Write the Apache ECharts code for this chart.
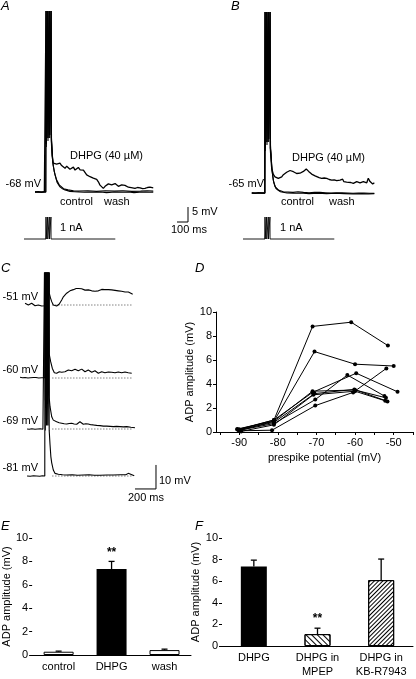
<!DOCTYPE html>
<html><head><meta charset="utf-8">
<script src="https://cdn.jsdelivr.net/npm/echarts@6/dist/echarts.min.js"></script>
<style>html,body{margin:0;padding:0;background:#fff}#c{width:416px;height:679px}</style>
</head><body><div id="c"></div>
<script>
// ---------------- DATA ----------------
// Panel A (time ms, membrane potential mV)
const aDhpg = [[-100,-68],[-70,-67.9],[-40,-68.1],[-15,-67.9],[-2,-68],
 [0,-7.7],[2,-52],[15,-7.7],[17,-50],[30,-7.7],[32,-49],[45,-7.7],[48,-50],
 [55,-56],[66,-58.4],[80,-58.2],[97,-58.7],[112,-58.1],[127,-58.4],[142,-59.2],[157,-59],[173,-60.1],[188,-59.4],[203,-59.6],[218,-60.4],[234,-60.1],[249,-59.7],[264,-60.7],[279,-60.2],[294,-59.8],[310,-60.6],[325,-61.2],[340,-60.7],[355,-60.4],[370,-62.3],[385,-62.1],[400,-62.9],[415,-62.6],[430,-63.4],[445,-63.2],[461,-63.8],[476,-64.6],[491,-65.7],[506,-66.2],[521,-66.8],[537,-66.1],[552,-65.7],[567,-65.3],[582,-65.1],[597,-65.6],[612,-65.7],[628,-65.2],[643,-65.7],[658,-66.1],[673,-66.2],[688,-65.6],[703,-65.3],[718,-65.8],[734,-66],[749,-66.4],[764,-66.9],[787,-66.6],[809,-66.8],[832,-66.5],[855,-66.6],[878,-66.9],[900,-66.8],[923,-66.5],[945,-66.4],[960,-66.7],[975,-66.6]];
const aControl = [[-100,-68.1],[-60,-68],[-30,-68.1],[-2,-68.1],
 [1,-7.7],[3,-53],[16,-7.7],[18,-51],[31,-7.7],[33,-50],[46,-7.7],[49,-51],
 [55,-54],[64,-59],[82,-62.3],[100,-64.7],[127,-66.3],[150,-66.9],[173,-67.3],[218,-67.8],[260,-67.9],[300,-68],[350,-68.1],[400,-68],[450,-68.1],[500,-68],[550,-68.2],[600,-68.1],[650,-68],[700,-68.1],[750,-68],[800,-68.2],[850,-68.1],[900,-68],[940,-68.1],[975,-68.1]];
const aWash = [[-100,-67.9],[-60,-68],[-30,-67.9],[-2,-67.9],
 [2,-7.7],[4,-52],[17,-7.7],[19,-50],[32,-7.7],[34,-49],[47,-7.7],[50,-50],
 [56,-54],[62,-58],[75,-61.2],[95,-63.8],[120,-65.6],[160,-66.9],[200,-67.3],[250,-67.6],[300,-67.7],[380,-67.6],[460,-67.8],[540,-67.6],[620,-67.7],[700,-67.6],[780,-67.8],[860,-67.7],[920,-67.6],[975,-67.7]];
// Panel B
const bDhpg = [[-120,-65],[-90,-65.1],[-60,-64.9],[-30,-65],[-2,-65],
 [0,-4.7],[2,-50],[15,-4.7],[17,-48],[30,-4.7],[32,-47],[45,-4.7],[48,-50],
 [55,-54],[61,-56.8],[76,-58.8],[91,-59.6],[106,-59.8],[121,-60.1],[137,-59.9],[152,-59.6],[167,-58.9],[182,-58.4],[197,-58.1],[212,-57.9],[228,-57.5],[243,-57.6],[258,-57.9],[273,-58.1],[288,-58.5],[303,-58.7],[318,-58.4],[334,-58.2],[349,-57.8],[364,-57.3],[375,-57.0],[385,-57.1],[397,-57.8],[409,-58.4],[424,-58.7],[439,-59],[455,-59.3],[470,-59.6],[492,-59.9],[515,-60.1],[538,-60],[561,-60.1],[584,-60.5],[606,-60.7],[629,-60.6],[652,-60.9],[667,-60.8],[682,-60.7],[695,-60.3],[706,-60.4],[716,-61.2],[727,-61.6],[742,-61.4],[757,-61.2],[780,-61.5],[803,-61.8],[818,-61.6],[834,-61.2],[849,-61.5],[864,-61.6],[879,-61.3],[894,-61.2],[910,-61.5],[925,-61.6],[933,-61.0],[939,-60.1],[947,-60.7],[955,-61.2],[967,-61.7],[979,-62],[994,-61.6]];
const bControl = [[-120,-65.1],[-80,-65],[-40,-65.1],[-2,-65.1],
 [1,-4.7],[3,-51],[16,-4.7],[18,-49],[31,-4.7],[33,-48],[46,-4.7],[49,-50],
 [55,-52],[61,-56.2],[75,-60.7],[91,-62.9],[121,-64],[166,-64.6],[210,-64.7],[255,-64.8],[300,-64.6],[350,-64.8],[400,-64.9],[450,-64.8],[500,-64.8],[550,-64.9],[600,-65],[650,-64.9],[700,-64.9],[750,-65],[800,-65.1],[850,-65],[900,-65],[950,-65.1],[994,-65.1]];
const bWash = [[-120,-64.9],[-80,-65],[-40,-64.9],[-2,-65],
 [2,-4.7],[4,-50],[17,-4.7],[19,-48],[32,-4.7],[34,-47],[47,-4.7],[50,-49],
 [56,-53],[65,-58],[80,-61.5],[100,-63.5],[140,-64.6],[200,-65],[260,-65.1],[320,-65],[400,-65.2],[480,-65.1],[560,-65.2],[640,-65.1],[720,-65.2],[800,-65.3],[880,-65.2],[940,-65.3],[994,-65.2]];
// Current injection (nA)
const stim = [[-200,0],[0,0],[0,1],[1,1],[1,0],[15,0],[15,1],[16,1],[16,0],[30,0],[30,1],[31,1],[31,0],[45,0],[45,1],[46,1],[46,0],[630,0]];
// Scale bars: 100 ms / 5 mV (A,B) ; 200 ms / 10 mV (C)
const abScale = [[1191,-78],[1291,-78],[1291,-73]];
const cScale = [[857,-86.4],[1057,-86.4],[1057,-76.4]];
// Panel C (prespike potentials)
const cBase = [-51, -60, -69, -81];
const c51 = [[-190,-50.3],[-175,-50.8],[-159,-51],[-143,-50.6],[-127,-50.3],[-111,-50.9],[-95,-51.3],[-80,-50.9],[-64,-51],[-48,-51.3],[-31,-51.4],[-15,-51.1],[-2,-51.3],
 [0,20],[3,-46],[12,20],[15,-45],[24,20],[27,-45],[36,20],[40,-46],
 [52,-48],[64,-49.6],[79,-51],[95,-51.3],[111,-51.4],[124,-51.1],[136,-50.6],[159,-48.9],[175,-47.6],[190,-46.8],[206,-46.1],[222,-45.5],[238,-45.1],[254,-44.8],[270,-44.6],[286,-44.3],[297,-44.1],[308,-43.8],[320,-44.1],[333,-44.3],[349,-44.2],[365,-44.5],[381,-44.8],[397,-45],[413,-44.7],[429,-44.8],[445,-45.1],[460,-45.2],[476,-45.3],[492,-45.5],[508,-45.1],[524,-44.8],[540,-44.5],[555,-44.3],[571,-44.6],[588,-44.8],[604,-44.6],[619,-44.5],[635,-44.7],[650,-45],[667,-44.9],[683,-44.8],[698,-45.1],[714,-45.5],[730,-45.3],[746,-45.2],[762,-45.6],[778,-45.9],[794,-45.6],[810,-45.7],[822,-46.2],[835,-46.5]];
const c60 = [[-238,-59.7],[-215,-59.9],[-190,-59.8],[-162,-60],[-140,-59.9],[-110,-59.8],[-86,-59.8],[-60,-60],[-30,-59.9],[-2,-59.9],
 [0,20],[3,-50],[12,20],[15,-49],[24,20],[27,-48],[36,20],[40,-50],
 [54,-53.2],[70,-56],[89,-57.8],[111,-58],[124,-57.6],[136,-57.4],[147,-57.7],[159,-57.6],[175,-57.3],[190,-57.4],[206,-56.9],[222,-56.7],[238,-57],[254,-57],[270,-56.6],[286,-56.4],[301,-56.8],[317,-57],[333,-56.5],[350,-56.3],[365,-56.9],[381,-57.4],[397,-57],[412,-56.7],[429,-57.2],[445,-57.6],[460,-57.2],[476,-57],[492,-57.5],[508,-58],[524,-57.6],[540,-57.4],[555,-57.7],[571,-57.8],[587,-57.5],[603,-57.5],[619,-57.7],[635,-57.6],[651,-57.9],[667,-57.8],[683,-57.6],[698,-57.5],[714,-57.7],[730,-57.8],[746,-57.6],[762,-57.5],[778,-57.8],[793,-57.8],[810,-57.7],[826,-58]];
const c69 = [[-171,-69],[-150,-69.1],[-125,-68.9],[-95,-69.1],[-70,-69],[-45,-68.9],[-20,-69.1],[-2,-69],
 [0,20],[3,-57],[12,20],[15,-56],[24,20],[27,-55],[36,20],[40,-56],
 [48,-59.7],[64,-63.9],[79,-65.3],[95,-65.8],[111,-66],[135,-66.4],[159,-66.6],[183,-66.8],[207,-66.9],[230,-66.7],[254,-66.6],[278,-66.9],[302,-67],[318,-66.7],[333,-66],[349,-66.6],[365,-67],[389,-66.8],[412,-66.9],[436,-67.2],[460,-67.3],[492,-67.5],[524,-67.6],[556,-67.8],[588,-67.8],[620,-67.9],[650,-68],[682,-67.9],[714,-68],[746,-68.1],[778,-68],[818,-68.3],[857,-68.5]];
const c81 = [[-171,-81],[-140,-81.1],[-110,-80.9],[-80,-81],[-50,-81.1],[-25,-80.9],[-2,-81],
 [0,20],[3,-62],[12,20],[15,-60],[24,20],[27,-60],[36,20],[40,-62],
 [48,-68],[56,-73],[64,-75.5],[79,-78.5],[95,-79.9],[127,-80.3],[167,-80.5],[207,-80.6],[260,-80.5],[310,-80.7],[365,-80.6],[420,-80.5],[470,-80.7],[524,-80.7],[590,-80.6],[650,-80.6],[720,-80.5],[770,-80.5],[793,-79.9],[810,-80.6],[850,-80.9]];
const cDotSpan = [70, 840];
// Panel D: ADP amplitude (mV) vs prespike potential (mV), one array per cell
const d1 = [[-90.5,0.2],[-81,1.0],[-71,8.8],[-61,9.15],[-51.5,7.2]];
const d2 = [[-90,0.1],[-81,0.9],[-70.5,6.7],[-60,5.65],[-50,5.5]];
const d3 = [[-90,0.15],[-81,0.7],[-70.3,2.7],[-62,4.75],[-52.4,3.0]];
const d4 = [[-90,0.2],[-81,1.0],[-71,3.3],[-59.7,4.9],[-49,3.35]];
const d5 = [[-90,0.1],[-81.5,0.15],[-70.3,2.2],[-60.5,3.3],[-51.9,5.3]];
const d6 = [[-90.5,0.25],[-81,0.9],[-71,3.4],[-60,3.5],[-52,2.85]];
const d7 = [[-89.5,0.05],[-81,0.6],[-70.8,3.1],[-60,3.4],[-52.2,2.6]];
const d8 = [[-90,0.2],[-81,0.8],[-70.5,3.2],[-60.2,3.55],[-51.6,2.55]];
const dTicks = [-95,-90,-85,-80,-75,-70,-65,-60,-55,-50,-45];
const dLabels = [-90,-80,-70,-60,-50];
// Panel E
const eCats = ['control','DHPG','wash'];
const eMean = [0.28, 7.35, 0.42];
const eErrTop = [0.33, 8.0, 0.5];
const eSig = ['', '**', ''];
// Panel F
const fCats = ['DHPG','DHPG in\nMPEP','DHPG in\nKB-R7943'];
const fMean = [7.35, 1.1, 6.1];
const fErrTop = [7.95, 1.65, 8.05];
const fSig = ['', '**', ''];

// ---------------- STYLE / LAYOUT ----------------
const FONT = '"Liberation Sans", Arial, Helvetica, sans-serif';
const K = '#000';
const eStyles = [{color:'#fff',borderColor:K,borderWidth:1},{color:K},{color:'#fff',borderColor:K,borderWidth:1}];
const fStyles = [{color:K},
 {color:'#fff',borderColor:K,borderWidth:1,decal:{symbol:'rect',symbolSize:1,color:K,dashArrayX:[1,0],dashArrayY:[1,2.2],rotation:Math.PI/4}},
 {color:'#fff',borderColor:K,borderWidth:1,decal:{symbol:'rect',symbolSize:1,color:K,dashArrayX:[1,0],dashArrayY:[0.9,1.5],rotation:-Math.PI/4}}];
const cBasePx = [305, 378, 429, 476];
const cPxPerMv = 2.4, cTop = 273, cBottom = 495;

const grids = [], xAxes = [], yAxes = [], series = [];
function hiddenPanel(g, xr, yr){
  const i = grids.length;
  grids.push(g);
  xAxes.push({gridIndex:i, type:'value', min:xr[0], max:xr[1], show:false});
  yAxes.push({gridIndex:i, type:'value', min:yr[0], max:yr[1], show:false});
  return i;
}
function trace(i, data, w){
  series.push({type:'line', xAxisIndex:i, yAxisIndex:i, data:data, showSymbol:false, symbol:'none',
    lineStyle:{color:K, width:w||1.1}, silent:true, z:2});
}
// A
const gA = hiddenPanel({left:24, top:3, width:187, height:225}, [-200,1500], [-80,-5]);
trace(gA, aControl, 1.1); trace(gA, aWash, 1.1); trace(gA, aDhpg, 1.3); trace(gA, abScale, 1);
const gAs = hiddenPanel({left:24, top:206, width:187, height:44}, [-200,1500], [-0.5,1.5]);
trace(gAs, stim, 0.9);
// B
const gB = hiddenPanel({left:243, top:4, width:132, height:210}, [-200,1000], [-72,-2]);
trace(gB, bControl, 1.1); trace(gB, bWash, 1.1); trace(gB, bDhpg, 1.3);
const gBs = hiddenPanel({left:243, top:206, width:132, height:44}, [-200,1000], [-0.5,1.5]);
trace(gBs, stim, 0.9);
// C
const cTraces = [c51, c60, c69, c81];
cBase.forEach((b, k) => {
  const ymax = b + (cBasePx[k] - cTop) / cPxPerMv;
  const ymin = b - (cBottom - cBasePx[k]) / cPxPerMv;
  const gi = hiddenPanel({left:45 - 300*0.105, top:cTop, width:1400*0.105, height:cBottom - cTop}, [-300,1100], [ymin, ymax]);
  series.push({type:'line', xAxisIndex:gi, yAxisIndex:gi, data:[[cDotSpan[0], b],[cDotSpan[1], b]], showSymbol:false, symbol:'none',
    lineStyle:{color:'#444', width:1, type:[1,2]}, silent:true, z:1});
  trace(gi, cTraces[k], 1.1);
  if (k === 3) trace(gi, cScale, 1);
});
// D
const axisCommon = {axisLine:{lineStyle:{color:K,width:1}}, axisTick:{show:true, length:3, lineStyle:{color:K}},
  axisLabel:{color:K, fontSize:11, fontFamily:FONT, margin:4}, splitLine:{show:false}};
const gD = grids.length;
grids.push({left:216, top:312, width:197, height:120});
xAxes.push(Object.assign({}, axisCommon, {gridIndex:gD, type:'value', min:-96, max:-45,
  axisTick:{show:true, length:3, customValues:dTicks, lineStyle:{color:K}},
  axisLabel:{color:K, fontSize:11, fontFamily:FONT, margin:5, customValues:dLabels},
  name:'prespike potential (mV)', nameLocation:'middle', nameGap:20,
  nameTextStyle:{color:K, fontSize:11, fontFamily:FONT, padding:[0,0,0,20]}}));
yAxes.push(Object.assign({}, axisCommon, {gridIndex:gD, type:'value', min:0, max:10, interval:2,
  name:'ADP amplitude (mV)', nameLocation:'middle', nameGap:18, nameRotate:90,
  nameTextStyle:{color:K, fontSize:11, fontFamily:FONT}}));
[d1,d2,d3,d4,d5,d6,d7,d8].forEach(d => series.push({type:'line', xAxisIndex:gD, yAxisIndex:gD, data:d,
  symbol:'circle', symbolSize:4, itemStyle:{color:K}, lineStyle:{color:K, width:1}, silent:true}));
// E & F bar panels
function errRender(sig){
  return function(params, api){
    const c = api.coord([api.value(0), api.value(1)]);
    const t = api.coord([api.value(0), api.value(2)]);
    const ch = [
      {type:'line', shape:{x1:c[0], y1:c[1], x2:t[0], y2:t[1]}, style:{stroke:K, lineWidth:1.3}},
      {type:'line', shape:{x1:t[0]-3, y1:t[1], x2:t[0]+3, y2:t[1]}, style:{stroke:K, lineWidth:1.3}}
    ];
    const s = sig[params.dataIndex];
    if (s) ch.push({type:'text', x:t[0], y:t[1]-3, style:{text:s, fill:K, font:'bold 12px ' + FONT, textAlign:'center', textVerticalAlign:'bottom'}});
    return {type:'group', children:ch};
  };
}
function barPanel(g, cats, mean, top, sig, styles, bw){
  const i = grids.length;
  grids.push(g);
  xAxes.push({gridIndex:i, type:'category', data:cats, axisLine:{lineStyle:{color:K,width:1}}, axisTick:{show:false},
    axisLabel:{color:K, fontSize:11, fontFamily:FONT, margin:5, lineHeight:14, interval:0}});
  yAxes.push(Object.assign({}, axisCommon, {gridIndex:i, type:'value', min:0, max:10, interval:2,
    name:'ADP amplitude (mV)', nameLocation:'middle', nameGap:16, nameRotate:90,
    nameTextStyle:{color:K, fontSize:11, fontFamily:FONT}}));
  series.push({type:'bar', xAxisIndex:i, yAxisIndex:i, barWidth:bw, silent:true,
    data: mean.map((v, j) => ({value:v, itemStyle:styles[j]})), z:2});
  series.push({type:'custom', xAxisIndex:i, yAxisIndex:i, renderItem:errRender(sig), silent:true, z:3,
    data: mean.map((v, j) => [j, v, top[j]])});
}
barPanel({left:30, top:538, width:161, height:117}, eCats, eMean, eErrTop, eSig, eStyles, 30);
barPanel({left:222, top:538, width:191, height:117}, fCats, fMean, fErrTop, fSig, fStyles, 26);

// ---------------- TEXT ANNOTATIONS ----------------
function txt(x, y, s, align, font){
  return {type:'text', x:x, y:y, silent:true, z:10,
    style:{text:s, fill:K, font:font || ('11px ' + FONT), textAlign:align || 'left', textVerticalAlign:'middle'}};
}
const LET = 'italic 13px ' + FONT;
const graphic = [
  txt(1, 6, 'A', 'left', LET), txt(231, 6, 'B', 'left', LET), txt(1, 268, 'C', 'left', LET),
  txt(195, 268, 'D', 'left', LET), txt(1, 526, 'E', 'left', LET), txt(195, 526, 'F', 'left', LET),
  txt(41, 184, '-68 mV', 'right'), txt(70, 156, 'DHPG (40 \u00b5M)'), txt(60, 202, 'control'), txt(104, 202, 'wash'),
  txt(60, 228, '1 nA'), txt(192, 212, '5 mV'), txt(189, 230, '100 ms', 'center'),
  txt(264, 184, '-65 mV', 'right'), txt(292, 158, 'DHPG (40 \u00b5M)'), txt(281, 202, 'control'), txt(329, 202, 'wash'),
  txt(280, 228, '1 nA'),
  txt(159, 481, '10 mV'), txt(146, 498, '200 ms', 'center')
];
cBase.forEach((b, k) => graphic.push(txt(38, cBasePx[k] - 8, b + ' mV', 'right')));

const chart = echarts.init(document.getElementById('c'), null, {renderer:'canvas'});
chart.setOption({animation:false, backgroundColor:'#fff', textStyle:{fontFamily:FONT},
  grid:grids, xAxis:xAxes, yAxis:yAxes, series:series, graphic:graphic});
</script></body></html>
